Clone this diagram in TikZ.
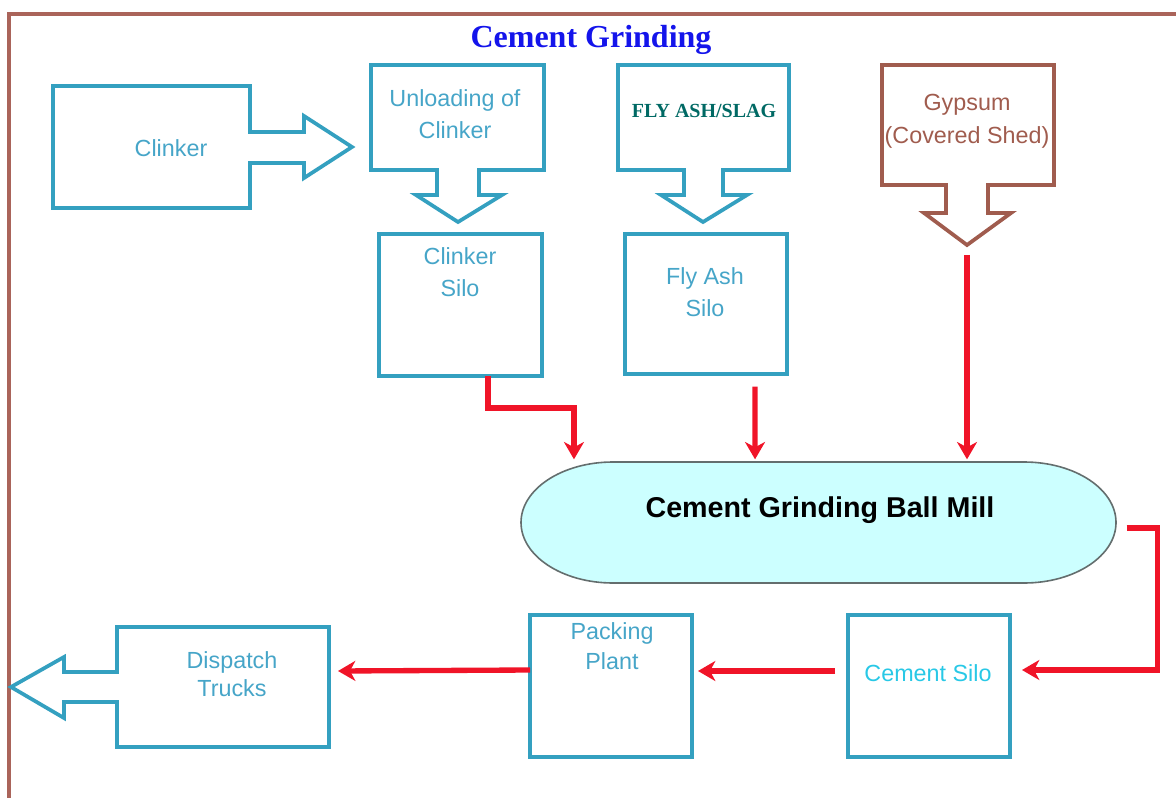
\documentclass[tikz,border=0pt]{standalone}
\usepackage{fontspec}
\setmainfont{Liberation Sans}
\newfontfamily\serifbold{Liberation Serif}
\usetikzlibrary{arrows.meta,calc}
\definecolor{boxc}{RGB}{52,160,192}
\definecolor{lblc}{RGB}{70,165,200}
\definecolor{cyanlbl}{RGB}{40,200,230}
\definecolor{gypc}{RGB}{160,92,78}
\definecolor{framec}{RGB}{170,100,90}
\definecolor{redc}{RGB}{240,20,40}
\definecolor{millfill}{RGB}{204,255,255}
\definecolor{millline}{RGB}{100,110,110}
\definecolor{titlec}{RGB}{20,20,235}
\definecolor{flyc}{RGB}{0,105,100}
\begin{document}
\begin{tikzpicture}[x=0.75pt,y=-0.75pt,
  blockshape/.style={draw=boxc, line width=2.8pt, line join=miter},
  box/.style={draw=boxc, line width=2.8pt, inner sep=0pt, outer sep=0pt},
  ghost/.style={inner sep=0pt, outer sep=0pt},
  lbl/.style={text=lblc, font=\fontsize{17.5}{24.5}\selectfont, align=center, inner sep=0pt},
  flow/.style={draw=redc, line width=4pt, line join=miter, -{Stealth[length=13pt,width=15pt,inset=4pt]}}]
\useasboundingbox (0,0) rectangle (1176,798);
% outer frame
\draw[framec, line width=2.5pt] (9,800) -- (9,14) -- (1178,14);
% title
\node[ghost, text=titlec, font=\serifbold\bfseries\fontsize{24}{28}\selectfont] (title) at (591,40) {Cement Grinding};

% Clinker block arrow
\draw[blockshape] (53,86) -- (250,86) -- (250,132) -- (304,132) -- (304,116) -- (352,147)
  -- (304,178) -- (304,163) -- (250,163) -- (250,208) -- (53,208) -- cycle;
\node[lbl] (clinker) at (171,148) {Clinker};

% Unloading of clinker
\draw[blockshape] (371,65) -- (544,65) -- (544,170) -- (479,170) -- (479,195) -- (502,195)
  -- (458,222) -- (416,195) -- (437,195) -- (437,170) -- (371,170) -- cycle;
\node[lbl] (unload) at (455,114) {Unloading of\\Clinker};

% Fly ash / slag
\draw[blockshape] (618,65) -- (789,65) -- (789,170) -- (723,170) -- (723,195) -- (747,195)
  -- (703,222) -- (661,195) -- (684,195) -- (684,170) -- (618,170) -- cycle;
\node[ghost, text=flyc, font=\serifbold\bfseries\fontsize{15}{18}\selectfont] (flyslag) at (704,111) {FLY ASH/SLAG};

% Gypsum
\draw[blockshape, draw=gypc] (882,65) -- (1054,65) -- (1054,185) -- (988,185) -- (988,213) -- (1011,213)
  -- (967,245) -- (924,213) -- (946,213) -- (946,185) -- (882,185) -- cycle;
\node[lbl, text=gypc] (gypsum) at (967,121) {Gypsum\\(Covered Shed)};
\coordinate (gyptip) at (967,245);

% Silos
\node[box, minimum width=122.25pt, minimum height=106.5pt] (csilo) at (460.5,305) {};
\node[lbl] (csilotxt) at (460,272) {Clinker\\Silo};
\node[box, minimum width=121.5pt, minimum height=105pt] (fsilo) at (706,304) {};
\node[lbl] (fsilotxt) at (705,292) {Fly Ash\\Silo};

% Ball mill
\draw[fill=millfill, draw=millline, line width=1.2pt] (613,462) -- (1024,462)
  arc[start angle=90, end angle=-90, x radius=69pt, y radius=45.375pt] -- (613,583)
  arc[start angle=270, end angle=90, x radius=69pt, y radius=45.375pt] -- cycle;
\node[ghost, minimum width=446.25pt, minimum height=90.75pt] (mill) at (818.5,522.5) {};
\node[ghost, font=\bfseries\fontsize{21.5}{26}\selectfont] (milltxt) at (820,510) {Cement Grinding Ball Mill};

% bottom row
\node[box, minimum width=121.5pt, minimum height=106.5pt] (cemsilo) at (929,686) {};
\node[lbl, text=cyanlbl] (cemsilotxt) at (928,673) {Cement Silo};
\node[box, minimum width=121.5pt, minimum height=106.5pt] (pack) at (611,686) {};
\node[lbl, font=\fontsize{17.5}{22.5}\selectfont] (packtxt) at (612,646) {Packing\\Plant};

% Dispatch block arrow
\draw[blockshape] (117,627) -- (329,627) -- (329,747) -- (117,747) -- (117,702) -- (64,702)
  -- (64,718) -- (11,687) -- (64,657) -- (64,672) -- (117,672) -- cycle;
\node[ghost, minimum width=159pt, minimum height=90pt] (disp) at (223,687) {};
\node[lbl, font=\fontsize{17.5}{21}\selectfont] (disptxt) at (232,674) {Dispatch\\Trucks};

% red flows
\draw[flow] ([xshift=20.6pt]csilo.south) -- ++(0,32) -| ([xshift=-183.4pt,yshift=2pt]mill.north);
\draw[flow] ([xshift=36.75pt,yshift=-9.5pt]fsilo.south) -- ([xshift=-47.6pt,yshift=2pt]mill.north);
\draw[flow] ([yshift=-7.5pt]gyptip) -- ([yshift=2pt]gyptip |- mill.north);
\draw[flow] ([xshift=8pt,yshift=-4pt]mill.east) -- ++(31,0) |- ([xshift=9pt,yshift=12pt]cemsilo.east);
\draw[flow] ([xshift=-9.75pt,yshift=11.25pt]cemsilo.west) -- ([xshift=4.5pt,yshift=11.25pt]pack.east);
\draw[flow] ([yshift=12pt]pack.west) -- ([xshift=6.75pt,yshift=12pt]disp.east);
\end{tikzpicture}
\end{document}
